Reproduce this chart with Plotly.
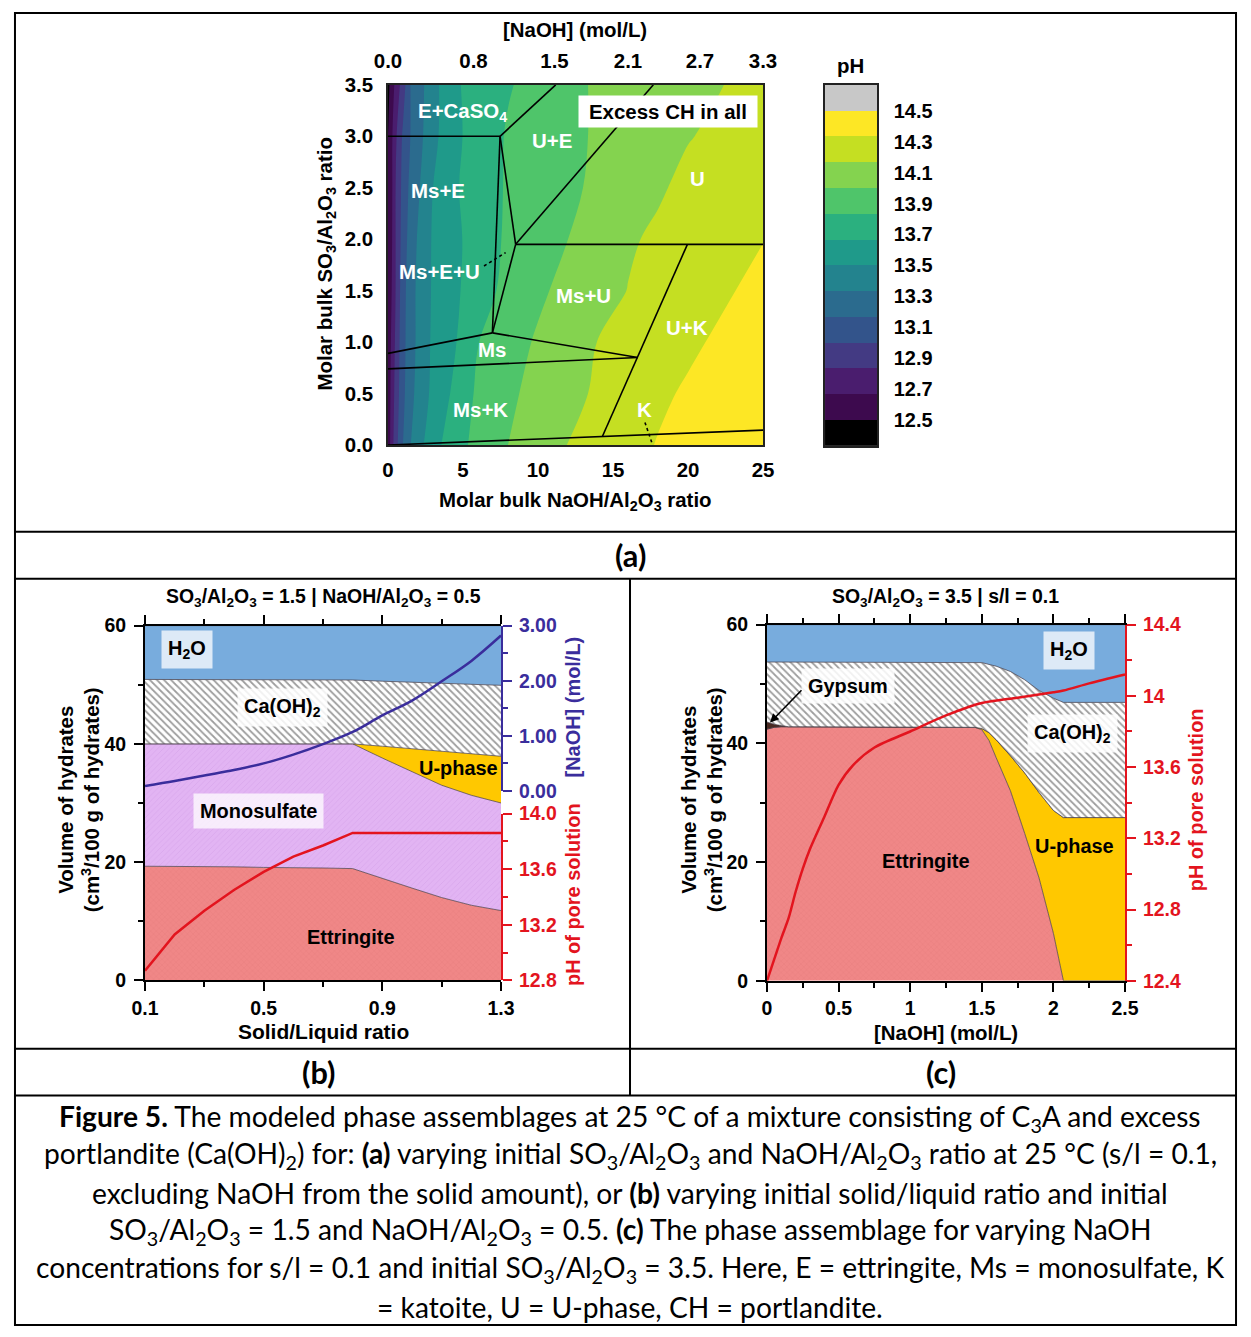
import plotly.graph_objects as go

W, H = 1251, 1337
FONT = "Liberation Sans, Arial, Helvetica, sans-serif"
CAP_FONT = "Lato, Carlito, Calibri, sans-serif"

# ---------------- Panel (a) data ----------------
ratio_nodes = [0, 0.25, 0.5, 1, 1.5, 2, 3, 4, 5, 6, 8, 10, 12, 14, 16, 18, 20, 22, 25]
so3_nodes = [0, 0.5, 1.0, 1.5, 2.0, 2.5, 3.0, 3.5]
ph_grid = [
    [12.55, 12.76, 12.93, 13.17, 13.33, 13.44, 13.60, 13.72, 13.81, 13.88, 14.00, 14.09, 14.17, 14.23, 14.29, 14.34, 14.37, 14.40, 14.44],
    [12.55, 12.73, 12.89, 13.13, 13.28, 13.39, 13.54, 13.65, 13.77, 13.86, 13.97, 14.05, 14.12, 14.19, 14.25, 14.31, 14.35, 14.38, 14.43],
    [12.55, 12.70, 12.86, 13.12, 13.26, 13.37, 13.53, 13.61, 13.71, 13.83, 13.93, 14.02, 14.10, 14.17, 14.22, 14.27, 14.31, 14.35, 14.41],
    [12.55, 12.67, 12.83, 13.11, 13.26, 13.37, 13.52, 13.60, 13.68, 13.76, 13.88, 13.97, 14.05, 14.11, 14.17, 14.22, 14.26, 14.31, 14.37],
    [12.53, 12.65, 12.83, 13.08, 13.24, 13.35, 13.52, 13.60, 13.67, 13.74, 13.86, 13.93, 14.00, 14.07, 14.15, 14.19, 14.23, 14.27, 14.33],
    [12.52, 12.64, 12.83, 13.06, 13.21, 13.31, 13.50, 13.60, 13.69, 13.75, 13.85, 13.91, 13.97, 14.03, 14.09, 14.15, 14.20, 14.24, 14.30],
    [12.50, 12.64, 12.80, 13.03, 13.17, 13.27, 13.46, 13.57, 13.67, 13.73, 13.85, 13.91, 13.96, 14.02, 14.06, 14.11, 14.16, 14.19, 14.24],
    [12.45, 12.58, 12.71, 12.92, 13.17, 13.26, 13.44, 13.59, 13.68, 13.73, 13.82, 13.89, 13.96, 14.02, 14.05, 14.09, 14.12, 14.16, 14.21],
]
ph_level_start = 12.5
ph_level_end = 14.5
ph_level_step = 1 / 6
band_colors = ['#000000', '#3d0a4e', '#4a1d6e', '#433a83', '#33548b', '#2b6b8e', '#23838e',
               '#1f9a8a', '#2bb07f', '#4fc56a', '#84d34f', '#c5df22', '#fde725', '#c8c8c8']
cbar_ticks = [12.5, 12.7, 12.9, 13.1, 13.3, 13.5, 13.7, 13.9, 14.1, 14.3, 14.5]

a_x_ticks = [0, 5, 10, 15, 20, 25]
a_y_ticks = [0.0, 0.5, 1.0, 1.5, 2.0, 2.5, 3.0, 3.5]
naoh_top_pos = [0, 5.7, 11.1, 16.0, 20.8, 25]
naoh_top_labels = ["0.0", "0.8", "1.5", "2.1", "2.7", "3.3"]

# phase boundaries (NaOH/Al2O3 ratio, SO3/Al2O3 ratio)
phase_x = [0, 7.47, None, 7.47, 11.18, None, 7.47, 8.51, None, 7.47, 6.96, None,
           8.51, 6.96, None, 8.51, 17.69, None, 8.51, 25, None, 6.96, 0, None,
           6.96, 16.65, None, 0, 16.65, None, 19.96, 14.29, None, 0, 25]
phase_y = [3.0, 3.0, None, 3.0, 3.5, None, 3.0, 1.95, None, 3.0, 1.09, None,
           1.95, 1.09, None, 1.95, 3.5, None, 1.95, 1.95, None, 1.09, 0.89, None,
           1.09, 0.85, None, 0.74, 0.85, None, 1.95, 0.083, None, 0.0, 0.145]
dotted_x = [6.4, 7.84, None, 17.13, 17.62]
dotted_y = [1.74, 1.87, None, 0.22, 0.01]

# ---------------- Panel (b) data ----------------
sl_ratio = [0.1, 0.2, 0.3, 0.4, 0.5, 0.6, 0.7, 0.8, 0.9, 1.0, 1.1, 1.2, 1.3]
b_ettringite_top = [19.3, 19.3, 19.2, 19.2, 19.1, 19.1, 19.0, 18.9, 17.2, 15.6, 14.0, 12.7, 11.8]
b_monosulfate_top = [40.0, 40.0, 40.0, 40.0, 40.0, 40.0, 40.0, 40.0, 37.6, 35.3, 33.0, 31.3, 30.0]
b_uphase_top = [40.0, 40.0, 40.0, 40.0, 40.0, 40.0, 40.0, 40.0, 39.6, 39.2, 38.8, 38.3, 37.9]
b_ch_top = [50.9, 50.9, 50.9, 50.9, 50.9, 50.8, 50.8, 50.8, 50.6, 50.4, 50.2, 50.0, 49.9]
b_h2o_top = [60, 60, 60, 60, 60, 60, 60, 60, 60, 60, 60, 60, 60]
b_naoh = [0.09, 0.18, 0.28, 0.38, 0.50, 0.66, 0.85, 1.07, 1.37, 1.64, 1.99, 2.36, 2.82]
b_ph = [12.87, 13.13, 13.30, 13.45, 13.58, 13.69, 13.77, 13.86, 13.86, 13.86, 13.86, 13.86, 13.86]

# ---------------- Panel (c) data ----------------
c_naoh = [0, 0.05, 0.1, 0.15, 0.25, 0.5, 0.75, 1.0, 1.25, 1.45, 1.5, 1.55, 1.6, 1.7, 1.8, 1.9,
          2.0, 2.05, 2.07, 2.1, 2.2, 2.3, 2.4, 2.5]
c_ettringite_top = [42.4, 42.7, 42.8, 42.8, 42.8, 42.8, 42.8, 42.8, 42.8, 42.7, 42.3, 40.5, 37.6,
                    32.0, 24.8, 17.3, 8.0, 2.6, 0, 0, 0, 0, 0, 0]
c_uphase_top = [42.4, 42.7, 42.8, 42.8, 42.8, 42.8, 42.8, 42.8, 42.8, 42.7, 42.5, 41.8, 40.6,
                37.9, 35.0, 31.7, 28.7, 27.8, 27.5, 27.5, 27.5, 27.5, 27.5, 27.5]
c_gypsum_top = [43.6, 43.2, 43.0, 42.8, 42.8, 42.8, 42.8, 42.8, 42.8, 42.7, 42.5, 41.8, 40.6,
                37.9, 35.0, 31.7, 28.7, 27.8, 27.5, 27.5, 27.5, 27.5, 27.5, 27.5]
c_ch_top = [53.7, 53.7, 53.7, 53.7, 53.7, 53.7, 53.7, 53.7, 53.7, 53.7, 53.6, 53.3, 53.0,
            52.1, 50.7, 48.9, 47.6, 47.1, 46.9, 46.9, 46.9, 46.9, 46.9, 46.9]
c_h2o_top = [60] * 24
c_ph_x = [0, 0.05, 0.1, 0.15, 0.2, 0.25, 0.3, 0.4, 0.5, 0.6, 0.75, 1.0, 1.25, 1.5, 1.75,
          2.0, 2.07, 2.25, 2.5]
c_ph = [12.40, 12.52, 12.64, 12.75, 12.90, 13.03, 13.14, 13.32, 13.50, 13.61, 13.71, 13.80,
        13.89, 13.96, 13.99, 14.02, 14.03, 14.07, 14.12]

caption_lines = [
    "<b>Figure 5.</b> The modeled phase assemblages at 25 °C of a mixture consisting of C<sub>3</sub>A and excess",
    "portlandite (Ca(OH)<sub>2</sub>) for: <b>(a)</b> varying initial SO<sub>3</sub>/Al<sub>2</sub>O<sub>3</sub> and NaOH/Al<sub>2</sub>O<sub>3</sub> ratio at 25 °C (s/l = 0.1,",
    "excluding NaOH from the solid amount), or <b>(b)</b> varying initial solid/liquid ratio and initial",
    "SO<sub>3</sub>/Al<sub>2</sub>O<sub>3</sub> = 1.5 and NaOH/Al<sub>2</sub>O<sub>3</sub> = 0.5. <b>(c)</b> The phase assemblage for varying NaOH",
    "concentrations for s/l = 0.1 and initial SO<sub>3</sub>/Al<sub>2</sub>O<sub>3</sub> = 3.5. Here, E = ettringite, Ms = monosulfate, K",
    "= katoite, U = U-phase, CH = portlandite.",
]

# ---- mapping from target-picture pixels to paper coordinates ----
# (the photographed page shows the figure slightly reduced and offset; compensate)
SX, OX = 0.9776, 14.0
SY, OY = 0.985, 10.0


def page_x(X):
    return (X - OX) / SX


def page_y(Y):
    return (Y - OY) / SY


def px(X):
    return page_x(X) / W


def py(Y):
    return 1 - page_y(Y) / H


def fs(s):
    return round(s / SX, 2)


# colors
RED = '#e3141e'
BLUE = '#3a2d9c'
ETT = '#f08787'
MS = '#e2b4f3'
UPH = '#ffc800'
H2O = '#78acdd'
GYP = '#4a2a22'
EDGE = 'rgba(70,60,70,0.9)'

fig = go.Figure()

# ---- (a) contour ----
nb = len(band_colors)
colorscale = []
for k, c in enumerate(band_colors):
    lo = max(0.0, (k - 0.5) / (nb - 1))
    hi = min(1.0, (k + 0.5) / (nb - 1))
    colorscale += [[lo, c], [hi, c]]

fig.add_trace(go.Contour(
    x=ratio_nodes, y=so3_nodes, z=ph_grid, colorscale=colorscale,
    contours=dict(start=ph_level_start, end=ph_level_end, size=ph_level_step,
                  coloring='fill', showlines=False),
    line=dict(width=0), showscale=False, hoverinfo='skip', xaxis='x', yaxis='y'))
fig.add_trace(go.Scatter(x=phase_x, y=phase_y, mode='lines', line=dict(color='black', width=1.6),
                         hoverinfo='skip', xaxis='x', yaxis='y'))
fig.add_trace(go.Scatter(x=dotted_x, y=dotted_y, mode='lines',
                         line=dict(color='black', width=1.6, dash='dot'),
                         hoverinfo='skip', xaxis='x', yaxis='y'))
fig.add_trace(go.Scatter(x=[0, 25], y=[0, 0], mode='markers', marker=dict(opacity=0),
                         hoverinfo='skip', xaxis='x2', yaxis='y'))

# ---- colour bar (manual) ----
band_centers = [ph_level_start - ph_level_step / 2 + k * ph_level_step for k in range(nb)]
fig.add_trace(go.Heatmap(
    x=[0.5], y=band_centers, z=[[v] for v in band_centers], colorscale=colorscale,
    zmin=band_centers[0], zmax=band_centers[-1], showscale=False, hoverinfo='skip',
    xaxis='x3', yaxis='y3'))


# ---- (b) areas ----
def area(x, y, xa, ya, fill, color, pattern=None):
    kw = dict(x=x, y=y, mode='lines', fill=fill, fillcolor=color,
              line=dict(color=EDGE, width=0.8), hoverinfo='skip', xaxis=xa, yaxis=ya)
    if pattern is not None:
        kw['fillpattern'] = pattern
    return go.Scatter(**kw)


ett_pat = dict(shape='x', size=4, solidity=0.15, fgcolor='#dc6c6c', bgcolor=ETT)
ms_pat = dict(shape='/', size=4, solidity=0.2, fgcolor='#cf98e4', bgcolor=MS)
ch_pat = dict(shape='\\', size=5, solidity=0.35, fgcolor='#3c3c3c', bgcolor='#ffffff')

fig.add_trace(area(sl_ratio, b_ettringite_top, 'x4', 'y4', 'tozeroy', ETT, ett_pat))
fig.add_trace(area(sl_ratio, b_monosulfate_top, 'x4', 'y4', 'tonexty', MS, ms_pat))
fig.add_trace(area(sl_ratio, b_uphase_top, 'x4', 'y4', 'tonexty', UPH))
fig.add_trace(area(sl_ratio, b_ch_top, 'x4', 'y4', 'tonexty', '#ffffff', ch_pat))
fig.add_trace(area(sl_ratio, b_h2o_top, 'x4', 'y4', 'tonexty', H2O))
fig.add_trace(go.Scatter(x=sl_ratio, y=b_naoh, mode='lines', line=dict(color=BLUE, width=2.5, shape='spline'),
                         hoverinfo='skip', xaxis='x4', yaxis='y5'))
fig.add_trace(go.Scatter(x=sl_ratio, y=b_ph, mode='lines', line=dict(color=RED, width=2.5),
                         hoverinfo='skip', xaxis='x4', yaxis='y6'))

# ---- (c) areas ----
fig.add_trace(area(c_naoh, c_ettringite_top, 'x5', 'y7', 'tozeroy', ETT, ett_pat))
fig.add_trace(area(c_naoh, c_uphase_top, 'x5', 'y7', 'tonexty', UPH))
fig.add_trace(area(c_naoh, c_gypsum_top, 'x5', 'y7', 'tonexty', GYP))
fig.add_trace(area(c_naoh, c_ch_top, 'x5', 'y7', 'tonexty', '#ffffff', ch_pat))
fig.add_trace(area(c_naoh, c_h2o_top, 'x5', 'y7', 'tonexty', H2O))
fig.add_trace(go.Scatter(x=c_ph_x, y=c_ph, mode='lines',
                         line=dict(color=RED, width=2.5, shape='spline', smoothing=0.8),
                         hoverinfo='skip', xaxis='x5', yaxis='y8'))


# ---------------- axes ----------------
def tf(size=19, color='black'):
    return dict(family=FONT, size=fs(size), color=color, weight='bold')


base_a = dict(showgrid=False, zeroline=False, ticks='')
base_bc = dict(showgrid=False, zeroline=False, showline=True, linewidth=2, linecolor='black',
               ticks='outside', ticklen=9, tickwidth=2, tickcolor='black', tickfont=tf(19))


def minor(dtick, tick0, color='black'):
    return dict(ticks='outside', ticklen=5, tickwidth=2, tickcolor=color, dtick=dtick, tick0=tick0)


fig.update_layout(
    width=W, height=H, margin=dict(l=0, r=0, t=0, b=0),
    paper_bgcolor='white', plot_bgcolor='rgba(0,0,0,0)', showlegend=False,
    font=dict(family=FONT, color='black'),
    xaxis=dict(base_a, domain=[px(388), px(763)], range=[0, 25], anchor='y',
               tickvals=a_x_ticks, ticktext=[str(v) for v in a_x_ticks], ticklabelstandoff=6,
               showline=True, mirror=True, linecolor='#222', linewidth=1.5, tickfont=tf(20)),
    xaxis2=dict(base_a, overlaying='x', side='top', range=[0, 25], anchor='y',
                tickvals=naoh_top_pos, ticktext=naoh_top_labels, showline=False,
                ticklabelstandoff=12, tickfont=tf(20)),
    yaxis=dict(base_a, domain=[py(444), py(83)], range=[0, 3.5], anchor='x',
               tickvals=a_y_ticks, ticktext=[f'{v:.1f}' for v in a_y_ticks], ticklabelstandoff=9,
               showline=True, mirror=True, linecolor='#222', linewidth=1.5, tickfont=tf(20)),
    xaxis3=dict(domain=[px(825), px(877)], range=[0, 1], anchor='y3', showticklabels=False,
                ticks='', showgrid=False, zeroline=False, showline=True, mirror=True,
                linecolor='#222', linewidth=1.5),
    yaxis3=dict(domain=[py(445), py(83)],
                range=[ph_level_start - ph_level_step, ph_level_end + ph_level_step],
                anchor='x3', side='right', tickvals=cbar_ticks,
                ticktext=[f'{v:.1f}' for v in cbar_ticks], ticks='', showgrid=False,
                zeroline=False, showline=True, mirror=True, linecolor='#222', linewidth=1.5,
                tickfont=tf(19.5), ticklabelstandoff=11),
    # (b)
    xaxis4=dict(base_bc, domain=[px(145), px(501)], range=[0.1, 1.3], anchor='y4',
                tickvals=[0.1, 0.5, 0.9, 1.3], ticktext=['0.1', '0.5', '0.9', '1.3'],
                minor=minor(0.2, 0.1), mirror='ticks'),
    yaxis4=dict(base_bc, domain=[py(980.5), py(625)], range=[0, 60], anchor='x4',
                tickvals=[0, 20, 40, 60], minor=minor(10, 0), ticklabelstandoff=4),
    yaxis5=dict(base_bc, domain=[py(790.7), py(625)], range=[0, 3], anchor='x4', side='right',
                tickvals=[0, 1, 2, 3], ticktext=['0.00', '1.00', '2.00', '3.00'], ticklabelstandoff=3,
                linecolor=BLUE, tickcolor=BLUE, tickfont=tf(19, BLUE), minor=minor(0.5, 0, BLUE)),
    yaxis6=dict(base_bc, domain=[py(980.5), py(813.3)], range=[12.8, 14.0], anchor='x4',
                side='right', tickvals=[12.8, 13.2, 13.6, 14.0], ticklabelstandoff=3,
                ticktext=['12.8', '13.2', '13.6', '14.0'],
                linecolor=RED, tickcolor=RED, tickfont=tf(19, RED), minor=minor(0.2, 12.8, RED)),
    # (c)
    xaxis5=dict(base_bc, domain=[px(767), px(1125)], range=[0, 2.5], anchor='y7',
                tickvals=[0, 0.5, 1, 1.5, 2, 2.5], ticktext=['0', '0.5', '1', '1.5', '2', '2.5'],
                minor=minor(0.25, 0), mirror='ticks'),
    yaxis7=dict(base_bc, domain=[py(981), py(624)], range=[0, 60], anchor='x5',
                tickvals=[0, 20, 40, 60], minor=minor(10, 0), ticklabelstandoff=4),
    yaxis8=dict(base_bc, overlaying='y7', side='right', range=[12.4, 14.4], anchor='x5',
                tickvals=[12.4, 12.8, 13.2, 13.6, 14.0, 14.4], ticklabelstandoff=3,
                ticktext=['12.4', '12.8', '13.2', '13.6', '14', '14.4'],
                linecolor=RED, tickcolor=RED, tickfont=tf(19, RED), minor=minor(0.2, 12.4, RED)),
)

# ---------------- annotations ----------------
ann = []


def paper_text(text, x, y, size=20, color='black', angle=0, family=FONT, bold=True):
    t = f'<b>{text}</b>' if bold else text
    ann.append(dict(text=t, x=px(x), y=py(y), xref='paper', yref='paper', showarrow=False,
                    xanchor='center', yanchor='middle', textangle=angle,
                    font=dict(family=family, size=fs(size), color=color)))


def data_text(text, x, y, xr, yr, size=20, color='white', bg=None, pad=3):
    d = dict(text=f'<b>{text}</b>', x=x, y=y, xref=xr, yref=yr, showarrow=False,
             xanchor='center', yanchor='middle', font=dict(family=FONT, size=fs(size), color=color))
    if bg:
        d.update(bgcolor=bg, borderpad=pad)
    ann.append(d)


# (a) titles
paper_text('[NaOH] (mol/L)', 575, 28)
paper_text('Molar bulk NaOH/Al<sub>2</sub>O<sub>3</sub> ratio', 575, 500)
paper_text('Molar bulk SO<sub>3</sub>/Al<sub>2</sub>O<sub>3</sub> ratio', 326, 263, angle=-90)
paper_text('pH', 850, 64)

# (a) region labels
for t, x, y in [("E+CaSO<sub>4</sub>", 4.96, 3.24), ("U+E", 10.96, 2.96), ("U", 20.6, 2.59),
                ("Ms+E", 3.36, 2.47), ("Ms+E+U", 3.4, 1.69), ("Ms+U", 13.0, 1.45),
                ("U+K", 19.96, 1.14), ("Ms", 6.9, 0.93), ("Ms+K", 6.18, 0.35), ("K", 17.07, 0.35)]:
    data_text(t, x, y, 'x', 'y')
ann.append(dict(text='<b>Excess CH in all</b>', x=18.65, y=3.24, xref='x', yref='y',
                showarrow=False, bgcolor='white', borderpad=2, width=fs(170), height=fs(26),
                font=dict(family=FONT, size=fs(20), color='black')))

# (b)
paper_text('SO<sub>3</sub>/Al<sub>2</sub>O<sub>3</sub> = 1.5 | NaOH/Al<sub>2</sub>O<sub>3</sub> = 0.5', 323, 597, size=19)
paper_text('Solid/Liquid ratio', 323, 1032, size=20.5)
paper_text('Volume of hydrates<br>(cm<sup>3</sup>/100 g of hydrates)', 79, 800, angle=-90)
paper_text('[NaOH] (mol/L)', 573, 707, color=BLUE, angle=-90, size=19.5)
paper_text('pH of pore solution', 573, 895, color=RED, angle=-90, size=19.5)
data_text('H<sub>2</sub>O', 0.2416, 55.9, 'x4', 'y4', size=19.5, color='black', bg='rgba(255,255,255,0.75)', pad=6)
data_text('Ca(OH)<sub>2</sub>', 0.562, 46.1, 'x4', 'y4', size=19.5, color='black', bg='rgba(255,255,255,0.85)', pad=6)
data_text('Monosulfate', 0.484, 28.6, 'x4', 'y4', size=19.5, color='black', bg='rgba(255,255,255,0.75)', pad=6)
data_text('U-phase', 1.157, 35.9, 'x4', 'y4', size=19.5, color='black')
data_text('Ettringite', 0.794, 7.4, 'x4', 'y4', size=19.5, color='black')

# (c)
paper_text('SO<sub>3</sub>/Al<sub>2</sub>O<sub>3</sub> = 3.5 | s/l = 0.1', 945, 597, size=19)
paper_text('[NaOH] (mol/L)', 946, 1033, size=20)
paper_text('Volume of hydrates<br>(cm<sup>3</sup>/100 g of hydrates)', 702, 800, angle=-90)
paper_text('pH of pore solution', 1196, 800, color=RED, angle=-90, size=19.5)
data_text('H<sub>2</sub>O', 2.109, 55.6, 'x5', 'y7', size=19.5, color='black', bg='rgba(255,255,255,0.75)', pad=6)
data_text('Gypsum', 0.566, 49.6, 'x5', 'y7', size=19.5, color='black', bg='rgba(255,255,255,0.85)', pad=6)
data_text('Ca(OH)<sub>2</sub>', 2.13, 41.7, 'x5', 'y7', size=19.5, color='black', bg='rgba(255,255,255,0.85)', pad=6)
data_text('Ettringite', 1.11, 20.2, 'x5', 'y7', size=19.5, color='black')
data_text('U-phase', 2.15, 22.7, 'x5', 'y7', size=19.5, color='black')
ann.append(dict(text='', x=0.021, y=43.5, ax=0.251, ay=49.2, xref='x5', yref='y7',
                axref='x5', ayref='y7', showarrow=True, arrowhead=2, arrowsize=1.1,
                arrowwidth=1.6, arrowcolor='black'))

# panel letters
paper_text('(a)', 630, 555, size=30, family=CAP_FONT)
paper_text('(b)', 318, 1073, size=30, family=CAP_FONT)
paper_text('(c)', 941, 1073, size=30, family=CAP_FONT)

# caption (kept inside the frame)
for i, line in enumerate(caption_lines):
    ann.append(dict(text=line, x=px(630), y=py(1118 + 38 * i), xref='paper', yref='paper',
                    showarrow=False, xanchor='center', yanchor='middle',
                    font=dict(family=CAP_FONT, size=28.2, color='black')))

fig.update_layout(annotations=ann)

# ---------------- table frame ----------------
shapes = []
L = dict(color='black', width=2)
shapes.append(dict(type='rect', xref='paper', yref='paper', x0=1 / W, x1=(W - 1) / W,
                   y0=1 / H, y1=1 - 1 / H, line=L))
for yy in [531, 578, 1049, 1096]:
    shapes.append(dict(type='line', xref='paper', yref='paper', x0=1 / W, x1=(W - 1) / W,
                       y0=py(yy), y1=py(yy), line=L))
shapes.append(dict(type='line', xref='paper', yref='paper', x0=px(630), x1=px(630),
                   y0=py(1096), y1=py(578), line=L))
fig.update_layout(shapes=shapes)

fig.write_html("out.html", config={'displayModeBar': False},
               post_script="document.body.style.margin='0px';document.body.style.padding='0px';")
